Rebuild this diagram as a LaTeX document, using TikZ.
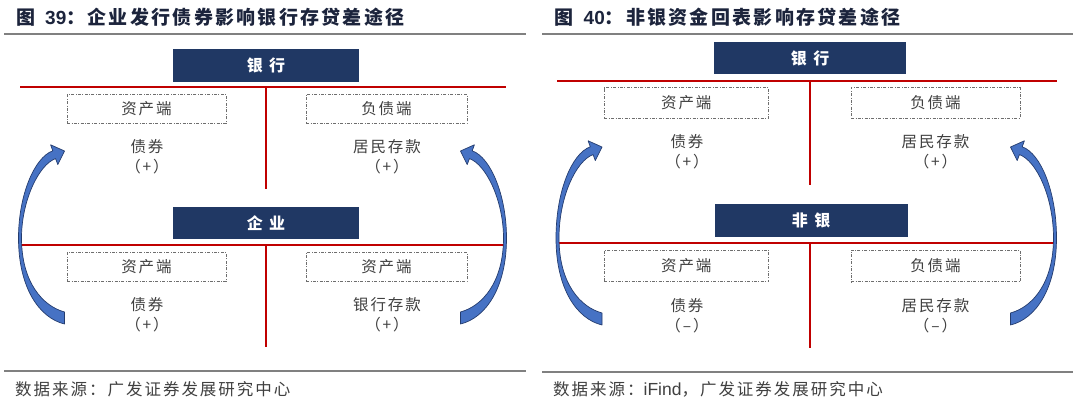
\documentclass[tikz,border=0pt]{standalone}
\usepackage{fontspec}
\newfontfamily\cjk[LetterSpace=12]{Noto Sans CJK SC}
\newfontfamily\cjkplain{Noto Sans CJK SC}
\newfontfamily\arial{Liberation Sans}
\definecolor{navy}{RGB}{32,56,100}
\definecolor{redl}{RGB}{192,0,0}
\definecolor{rulegray}{RGB}{128,128,128}
\definecolor{txt}{RGB}{64,64,64}
\definecolor{titlec}{RGB}{28,36,60}
\definecolor{arrowfill}{RGB}{70,114,196}
\definecolor{arrowline}{RGB}{36,60,110}
\definecolor{dashc}{RGB}{110,110,110}
\tikzset{
  hdrbox/.style={fill=navy, draw=none, text=white, inner sep=0pt,
    font=\cjkplain\bfseries\fontsize{16}{16}\selectfont},
  dbox/.style={draw=dashc, line width=0.7pt,
    dash pattern=on 3pt off 1.5pt on 0.8pt off 1.5pt,
    text=txt, inner sep=0pt, font=\cjk\fontsize{15.5}{15.5}\selectfont},
  lbl/.style={text=txt, inner sep=0pt, font=\cjk\fontsize{15.5}{15.5}\selectfont},
  redline/.style={draw=redl, line width=2pt},
  grayrule/.style={draw=rulegray, line width=2pt},
  ttl/.style={anchor=west, inner sep=0pt, text=titlec,
    font=\cjk\bfseries\fontsize{19}{19}\selectfont},
  src/.style={anchor=west, inner sep=0pt, text=txt,
    font=\cjk\fontsize{16.5}{16.5}\selectfont},
  crescent/.style={fill=arrowfill, draw=arrowline, line width=0.7pt, line join=round}
}
% #1 tip x, #2 tip y, #3 bottom outer y, #4 mirror (1 left, -1 right)
\newcommand{\crescentarrow}[4]{%
\begin{scope}[shift={(#1,0)}, xscale=#4]
\path[crescent]
 (0,#3) .. controls (-25,#3-6) and (-46,#3-36) .. (-46,238)
 .. controls (-46,#2+45) and (-30.5,#2+6.6) .. (-11.7,#2-0.2)
 -- (-13.9,#2-6.2) -- (0,#2) -- (-6.7,#2+13.6) -- (-8.9,#2+7.6)
 .. controls (-25.9,#2+13.7) and (-43,#2+50) .. (-43,238)
 .. controls (-43,#3-42) and (-22,#3-18) .. (0,#3-12) -- cycle;
\end{scope}}
\begin{document}
\begin{tikzpicture}[x=1pt, y=-1pt]
\useasboundingbox (0,0) rectangle (1080,403);
\fill[white] (0,0) rectangle (1080,403);

% ---------- Panel 1 ----------
\node[ttl] (title1) at (16,17) {图\hspace{10pt}{\arial\bfseries 39}：企业发行债券影响银行存贷差途径};
\coordinate (r1a) at (4,34); \coordinate (r1b) at (526,34);
\draw[grayrule] (r1a) -- (r1b);

\coordinate (h1a) at (20,87.5); \coordinate (h1b) at (506,87.5);
\coordinate (v1a) at (266,87.5); \coordinate (v1b) at (266,189);
\draw[redline] (h1a) -- (h1b);
\draw[redline] (v1a) -- (v1b);
\coordinate (h1c) at (20,245); \coordinate (h1d) at (506,245);
\coordinate (v1c) at (266,245); \coordinate (v1d) at (266,347);
\draw[redline] (h1c) -- (h1d);
\draw[redline] (v1c) -- (v1d);

\crescentarrow{64.5}{151}{324}{1}
\crescentarrow{460.5}{151}{324}{-1}

\node[hdrbox, minimum width=186pt, minimum height=32.5pt] (bank1) at (266,65.5) {银\hspace{6.5pt}行};
\node[dbox, minimum width=159pt, minimum height=29pt] (a1l) at (146.5,109) {资产端};
\node[dbox, minimum width=161pt, minimum height=29pt] (a1r) at (386.5,109) {负债端};
\node[lbl] (b1l) at (147,147) {债券};
\node[lbl] (p1l) at (147,166.5) {（+）};
\node[lbl] (b1r) at (387,147) {居民存款};
\node[lbl] (p1r) at (387,166.5) {（+）};

\node[hdrbox, minimum width=186pt, minimum height=32pt] (firm1) at (266,223.5) {企\hspace{6.5pt}业};
\node[dbox, minimum width=159pt, minimum height=29pt] (c1l) at (146.5,267) {资产端};
\node[dbox, minimum width=161pt, minimum height=29pt] (c1r) at (386.5,267) {资产端};
\node[lbl] (d1l) at (147,305) {债券};
\node[lbl] (q1l) at (147,325) {（+）};
\node[lbl] (d1r) at (387,305) {银行存款};
\node[lbl] (q1r) at (387,325) {（+）};

\coordinate (s1a) at (4,371.5); \coordinate (s1b) at (526,371.5);
\draw[grayrule] (s1a) -- (s1b);
\node[src] (src1) at (15,389) {数据来源：广发证券发展研究中心};

% ---------- Panel 2 ----------
\node[ttl] (title2) at (554.5,17) {图\hspace{10pt}{\arial\bfseries 40}：非银资金回表影响存贷差途径};
\coordinate (r2a) at (542,34); \coordinate (r2b) at (1073,34);
\draw[grayrule] (r2a) -- (r2b);

\coordinate (h2a) at (557,81); \coordinate (h2b) at (1057,81);
\coordinate (v2a) at (809.5,81); \coordinate (v2b) at (809.5,185);
\draw[redline] (h2a) -- (h2b);
\draw[redline] (v2a) -- (v2b);
\coordinate (h2c) at (557,243.3); \coordinate (h2d) at (1057,243.3);
\coordinate (v2c) at (809.5,243.3); \coordinate (v2d) at (809.5,348);
\draw[redline] (h2c) -- (h2d);
\draw[redline] (v2c) -- (v2d);

\crescentarrow{602}{147}{325}{1}
\crescentarrow{1010.5}{147}{325}{-1}

\node[hdrbox, minimum width=192pt, minimum height=32pt] (bank2) at (810,58.3) {银\hspace{6.5pt}行};
\node[dbox, minimum width=164pt, minimum height=30.6pt] (a2l) at (686.3,103) {资产端};
\node[dbox, minimum width=169pt, minimum height=30.6pt] (a2r) at (935.5,103) {负债端};
\node[lbl] (b2l) at (687,141.7) {债券};
\node[lbl] (p2l) at (687,161.7) {（+）};
\node[lbl] (b2r) at (935.5,141.7) {居民存款};
\node[lbl] (p2r) at (935.5,161.7) {（+）};

\node[hdrbox, minimum width=193pt, minimum height=33pt] (nb2) at (811,220.5) {非\hspace{6.5pt}银};
\node[dbox, minimum width=164pt, minimum height=31.7pt] (c2l) at (686.3,266) {资产端};
\node[dbox, minimum width=169pt, minimum height=31.7pt] (c2r) at (935.5,266) {负债端};
\node[lbl] (d2l) at (687,306) {债券};
\node[lbl] (q2l) at (687,326) {（–）};
\node[lbl] (d2r) at (935.5,306) {居民存款};
\node[lbl] (q2r) at (935.5,326) {（–）};

\coordinate (s2a) at (542,371.7); \coordinate (s2b) at (1073,371.7);
\draw[grayrule] (s2a) -- (s2b);
\node[src] (src2) at (553,389.5) {数据来源：{\arial\fontsize{17.5}{17.5}\selectfont iFind}，广发证券发展研究中心};
\end{tikzpicture}
\end{document}
